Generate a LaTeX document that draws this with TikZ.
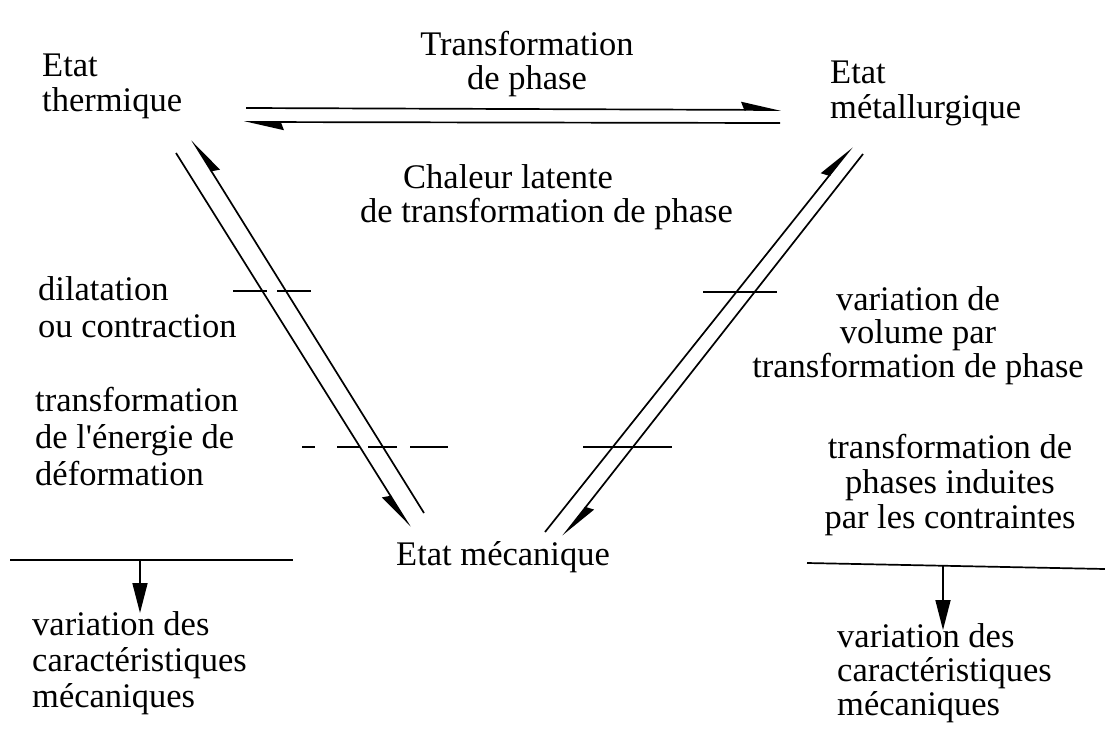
\documentclass[tikz,border=0pt]{standalone}
\usepackage{fontspec}
\setmainfont{Liberation Serif}
\usetikzlibrary{arrows.meta}
\begin{document}
\begin{tikzpicture}[x=1pt,y=-1pt,
  txt/.style={inner sep=0pt, font=\fontsize{34.5}{35}\selectfont},
  ln/.style={line width=1.7pt},
  harp/.style={-{Stealth[harpoon,length=36pt,width=16pt,inset=3pt]}},
  harpsw/.style={-{Stealth[harpoon,swap,length=36pt,width=16pt,inset=3pt]}},
  tri/.style={-{Stealth[length=30pt,width=15pt,inset=0pt]}}]
\useasboundingbox (0,0) rectangle (1105,731);

% texts (base anchor = baseline of the last line)
\node[txt, anchor=base west, align=left] (thermal) at (42,111) {Etat\\thermique};
\node[txt, anchor=base, align=center, font=\fontsize{34.5}{34}\selectfont] (phase) at (527,89) {Transformation\\de phase};
\node[txt, anchor=base west, align=left] (metal) at (830,118) {Etat\\métallurgique};
\node[txt, anchor=base west, align=left, font=\fontsize{34.5}{34}\selectfont] (latent) at (360,222) {\hspace*{43pt}Chaleur latente\\de transformation de phase};
\node[txt, anchor=base west, align=left, font=\fontsize{34.5}{37}\selectfont] (dil) at (38,337) {dilatation\\ou contraction};
\node[txt, anchor=base west, align=left, font=\fontsize{34.5}{37}\selectfont] (def) at (35,485) {transformation\\de l\textquotesingle énergie de\\déformation};
\node[txt, anchor=base, align=center, font=\fontsize{34.5}{33.5}\selectfont] (vol) at (918,377) {variation de\\volume par\\transformation de phase};
\node[txt, anchor=base, align=center] (induced) at (950,528) {transformation de\\phases induites\\par les contraintes};
\node[txt, anchor=base west] (meca) at (396,565) {Etat mécanique};
\node[txt, anchor=base west, align=left, font=\fontsize{34.5}{36}\selectfont] (varL) at (32,707) {variation des\\caractéristiques\\mécaniques};
\node[txt, anchor=base west, align=left, font=\fontsize{34.5}{34}\selectfont] (varR) at (837,715) {variation des\\caractéristiques\\mécaniques};

% endpoints
\coordinate (ta) at (246,108); \coordinate (tb) at (781,110);
\coordinate (ba) at (244,122); \coordinate (bb) at (780,123);
\coordinate (lo1) at (176,153); \coordinate (lo2) at (410,527);
\coordinate (li1) at (424,513); \coordinate (li2) at (192,140);
\coordinate (ri1) at (545,532); \coordinate (ri2) at (852,147);
\coordinate (ro1) at (863,154); \coordinate (ro2) at (563,536);

% couplings
\draw[ln,harp] (ta) -- (tb);
\draw[ln,harp] (bb) -- (ba);
\draw[ln,harpsw] (lo1) -- (lo2);
\draw[ln,harpsw] (li1) -- (li2);
\draw[ln,harp] (ri1) -- (ri2);
\draw[ln,harp] (ro1) -- (ro2);

% cross marks
\coordinate (c1a) at (233,291); \coordinate (c1b) at (312,291);
\coordinate (c2a) at (302,447); \coordinate (c2b) at (448,447);
\coordinate (c3a) at (703,292); \coordinate (c3b) at (777,292);
\coordinate (c4a) at (583,447); \coordinate (c4b) at (672,447);
\draw[ln, dash pattern=on 34pt off 10pt] (c1a) -- (c1b);
\draw[ln, dash pattern=on 13pt off 22pt on 23pt off 8pt on 29pt off 13pt on 38pt off 10pt] (c2a) -- (c2b);
\draw[ln] (c3a) -- (c3b);
\draw[ln] (c4a) -- (c4b);

% bottom bars
\coordinate (hl1) at (10,560); \coordinate (hl2) at (293,560);
\coordinate (al1) at (140,560); \coordinate (al2) at (140,613);
\coordinate (hr1) at (807,563); \coordinate (hr2) at (1105,569);
\coordinate (ar1) at (943,566); \coordinate (ar2) at (943,630);
\draw[ln] (hl1) -- (hl2);
\draw[ln,tri] (al1) -- (al2);
\draw[ln] (hr1) -- (hr2);
\draw[ln,tri] (ar1) -- (ar2);
\end{tikzpicture}
\end{document}
